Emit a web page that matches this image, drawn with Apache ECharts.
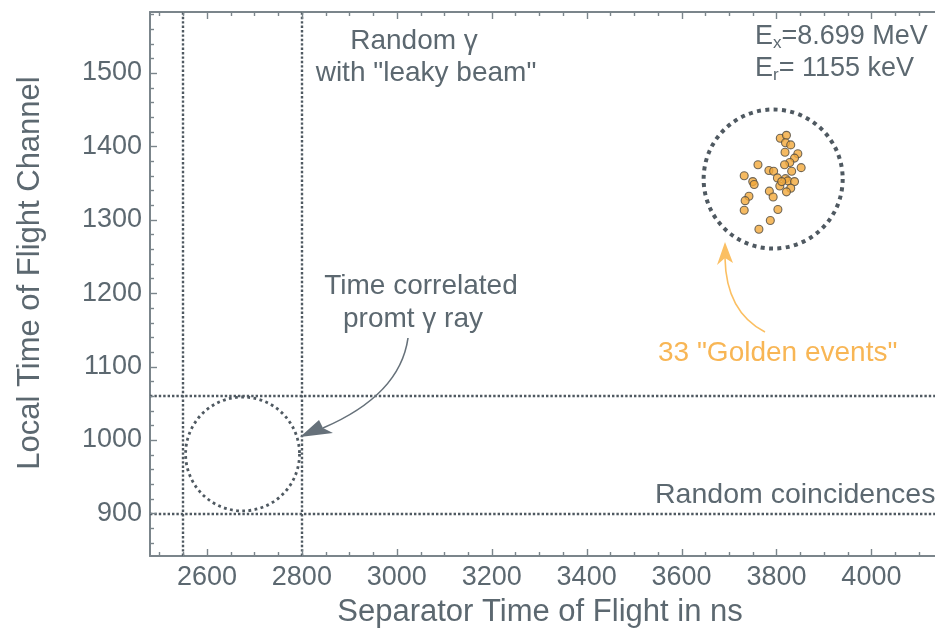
<!DOCTYPE html>
<html>
<head>
<meta charset="utf-8">
<title>Golden events</title>
<script src="https://cdn.jsdelivr.net/npm/echarts@6/dist/echarts.min.js"></script>
<style>
  html, body { margin: 0; padding: 0; background: #ffffff; overflow: hidden; }
  #chart { width: 935px; height: 629px; }
</style>
</head>
<body>
<div id="chart"></div>
<script>
// Separator time of flight (ns) vs local time-of-flight channel
const xMajorTicks = [2600, 2800, 3000, 3200, 3400, 3600, 3800, 4000];
const yMajorTicks = [900, 1000, 1100, 1200, 1300, 1400, 1500];

// The 33 "golden events"
const goldenX = [3808, 3821, 3819, 3830, 3818, 3845, 3838, 3828, 3817, 3852,
                 3761, 3784, 3794, 3832, 3732, 3802, 3819, 3824, 3838, 3750,
                 3753, 3807, 3830, 3821, 3785, 3793, 3742, 3734, 3732, 3803,
                 3787, 3763, 3811];
const goldenY = [1411, 1415, 1405, 1402, 1392, 1390, 1384, 1378, 1375, 1371,
                 1375, 1367, 1366, 1366, 1360, 1357, 1356, 1353, 1352, 1352,
                 1348, 1346, 1343, 1338, 1339, 1331, 1332, 1326, 1313, 1314,
                 1299, 1287, 1352];

// Gates (dotted lines)
const gateX = [2550, 2800];
const gateY = [900, 1060];

// Highlighted regions: centre (ns, channel) and radius in ns
const regionX = [2675, 3793];
const regionY = [981, 1355.5];
const regionR = [120, 146.5];

const X_MIN = 2480, X_MAX = 4134;
const Y_MIN = 842, Y_MAX = 1583;

const INK = '#5c6870';
const AXIS = '#7b858b';
const DOT = '#4f5961';
const GOLD_TEXT = '#f8b655';
const FONT = '"Liberation Sans", Arial, Helvetica, sans-serif';

function steps(from, to, step, skip) {
  const out = [];
  for (let v = from; v <= to + 1e-9; v += step) {
    if (!skip.includes(v)) out.push(v);
  }
  return out;
}
const xMinorTicks = steps(2500, 4100, 50, xMajorTicks);
const yMinorTicks = steps(860, 1580, 20, yMajorTicks);

// frame ticks: [x, y, axis (0 = x, 1 = y), major flag]
const frameTicks = []
  .concat(xMajorTicks.map(v => [v, Y_MIN, 0, 1]))
  .concat(xMinorTicks.map(v => [v, Y_MIN, 0, 0]))
  .concat(yMajorTicks.map(v => [X_MIN, v, 1, 1]))
  .concat(yMinorTicks.map(v => [X_MIN, v, 1, 0]));

function frameAxis(kind, position, withLabels) {
  const isX = kind === 'x';
  return {
    type: 'value',
    position: position,
    min: isX ? X_MIN : Y_MIN,
    max: isX ? X_MAX : Y_MAX,
    axisLine: { show: true, onZero: false, lineStyle: { color: AXIS, width: 2 } },
    axisTick: { show: false },
    axisLabel: withLabels ? {
      show: true, customValues: isX ? xMajorTicks : yMajorTicks,
      color: INK, fontFamily: FONT, fontSize: 27,
      margin: 8, formatter: v => String(v)
    } : { show: false },
    splitLine: { show: false },
    minorTick: { show: false }
  };
}

const chart = echarts.init(document.getElementById('chart'), null, { renderer: 'canvas' });

const ringStyles = [
  { lineWidth: 2.8, lineDash: [2.8, 3.4] },
  { lineWidth: 4, lineDash: [4, 4.4] }
];

chart.setOption({
  animation: false,
  backgroundColor: '#ffffff',
  grid: { left: 150, right: 0, top: 12, bottom: 73, containLabel: false },
  xAxis: [
    frameAxis('x', 'bottom', true),
    frameAxis('x', 'top', false)
  ],
  yAxis: [
    frameAxis('y', 'left', true)
  ],
  series: [
    {
      // inward ticks on the frame (bottom and top for x, left for y)
      type: 'custom',
      xAxisIndex: 0, yAxisIndex: 0,
      silent: true,
      z: 6,
      data: frameTicks,
      renderItem: function (params, api) {
        const cs = params.coordSys;
        const len = api.value(3) ? 7 : 4;
        const style = { stroke: AXIS, lineWidth: 1.4 };
        if (api.value(2) === 0) {
          const px = Math.round(api.coord([api.value(0), api.value(1)])[0]) + 0.5;
          const yb = cs.y + cs.height, yt = cs.y;
          return {
            type: 'group',
            children: [
              { type: 'line', shape: { x1: px, y1: yb, x2: px, y2: yb - len }, style: style },
              { type: 'line', shape: { x1: px, y1: yt, x2: px, y2: yt + len }, style: style }
            ]
          };
        }
        const py = Math.round(api.coord([api.value(0), api.value(1)])[1]) + 0.5;
        return { type: 'line', shape: { x1: cs.x, y1: py, x2: cs.x + len, y2: py }, style: style };
      }
    },
    {
      // regions of interest drawn as dotted rings
      type: 'custom',
      xAxisIndex: 0, yAxisIndex: 0,
      silent: true,
      z: 3,
      data: regionX.map((x, i) => [x, regionY[i], regionR[i]]),
      renderItem: function (params, api) {
        const c = api.coord([api.value(0), api.value(1)]);
        const r = api.size([api.value(2), 0])[0];
        const s = ringStyles[params.dataIndex];
        return {
          type: 'circle',
          shape: { cx: c[0], cy: c[1], r: r },
          style: { fill: null, stroke: DOT, lineWidth: s.lineWidth, lineDash: s.lineDash, lineCap: 'butt' }
        };
      }
    },
    {
      name: 'Golden events',
      type: 'scatter',
      xAxisIndex: 0, yAxisIndex: 0,
      z: 5,
      symbol: 'circle',
      symbolSize: 8,
      itemStyle: { color: '#f3a93b', borderColor: '#4d4a42', borderWidth: 1.1 },
      data: goldenX.map((x, i) => [x, goldenY[i]]),
      markLine: {
        silent: true,
        symbol: ['none', 'none'],
        label: { show: false },
        lineStyle: { color: DOT, width: 2.4, type: [2.4, 2], opacity: 1 },
        emphasis: { disabled: true },
        data: gateX.map(v => ({ xAxis: v })).concat(gateY.map(v => ({ yAxis: v })))
      }
    }
  ],
  graphic: [
    // axis titles
    { type: 'text', x: 540, y: 612, z: 10, silent: true,
      style: { text: 'Separator Time of Flight in ns', font: '31px ' + FONT, fill: INK,
               align: 'center', verticalAlign: 'middle' } },
    { type: 'text', x: 30, y: 273, rotation: Math.PI / 2, z: 10, silent: true,
      style: { text: 'Local Time of Flight Channel', font: '31px ' + FONT, fill: INK,
               align: 'center', verticalAlign: 'middle' } },

    // annotations
    { type: 'text', x: 414, y: 41, z: 10, silent: true,
      style: { text: 'Random \u03b3', font: '28px ' + FONT, fill: INK, align: 'center', verticalAlign: 'middle' } },
    { type: 'text', x: 426, y: 73, z: 10, silent: true,
      style: { text: 'with "leaky beam"', font: '28px ' + FONT, fill: INK, align: 'center', verticalAlign: 'middle' } },
    { type: 'text', x: 755, y: 37, z: 10, silent: true,
      style: { text: '{m|E}{s|x}{m|=8.699 MeV}', fill: INK, align: 'left', verticalAlign: 'middle',
               rich: { m: { font: '27px ' + FONT, fill: INK, lineHeight: 30 },
                       s: { font: '17px ' + FONT, fill: INK, lineHeight: 17, verticalAlign: 'bottom' } } } },
    { type: 'text', x: 755, y: 69, z: 10, silent: true,
      style: { text: '{m|E}{s|r}{m|= 1155 keV}', fill: INK, align: 'left', verticalAlign: 'middle',
               rich: { m: { font: '27px ' + FONT, fill: INK, lineHeight: 30 },
                       s: { font: '17px ' + FONT, fill: INK, lineHeight: 17, verticalAlign: 'bottom' } } } },
    { type: 'text', x: 421, y: 286, z: 10, silent: true,
      style: { text: 'Time correlated', font: '28px ' + FONT, fill: INK, align: 'center', verticalAlign: 'middle' } },
    { type: 'text', x: 413, y: 319, z: 10, silent: true,
      style: { text: 'promt \u03b3 ray', font: '28px ' + FONT, fill: INK, align: 'center', verticalAlign: 'middle' } },
    { type: 'text', x: 658, y: 353, z: 10, silent: true,
      style: { text: '33 "Golden events"', font: '28px ' + FONT, fill: GOLD_TEXT, align: 'left', verticalAlign: 'middle' } },
    { type: 'text', x: 655, y: 495, z: 10, silent: true,
      style: { text: 'Random coincidences', font: '28.5px ' + FONT, fill: INK, align: 'left', verticalAlign: 'middle' } },

    // arrow towards the prompt-gamma region
    { type: 'bezierCurve', z: 10, silent: true,
      shape: { x1: 408, y1: 338, cpx1: 400, cpy1: 395, x2: 323, y2: 428 },
      style: { stroke: '#66717a', lineWidth: 1.6, fill: null } },
    { type: 'polygon', z: 10, silent: true,
      shape: { points: [[300, 437], [319, 420], [323, 428], [333, 433]] },
      style: { fill: '#66717a' } },

    // arrow towards the golden events
    { type: 'bezierCurve', z: 10, silent: true,
      shape: { x1: 765, y1: 332, cpx1: 726, cpy1: 312, x2: 725, y2: 258 },
      style: { stroke: '#fbbf62', lineWidth: 1.6, fill: null } },
    { type: 'polygon', z: 10, silent: true,
      shape: { points: [[725, 242], [733, 263], [725, 258], [717, 265]] },
      style: { fill: '#fbbf62' } }
  ]
});
</script>
</body>
</html>
